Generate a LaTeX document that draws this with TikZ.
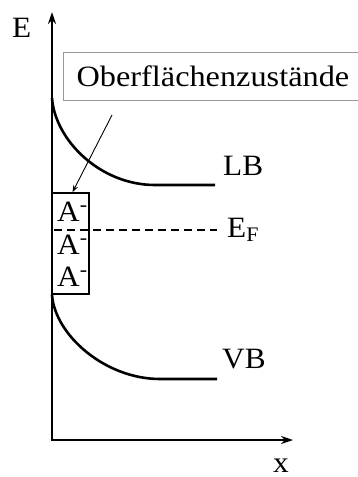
\documentclass[tikz,border=0pt]{standalone}
\usepackage{fontspec}
\usepackage{graphicx}
\setmainfont{Liberation Serif}
\usetikzlibrary{arrows.meta}
\newcommand\hwide[1]{\scalebox{1.06}[1]{#1}}
\newcommand\hwider[1]{\scalebox{1.095}[1]{#1}}
\begin{document}
\begin{tikzpicture}[x=1pt,y=-1pt,
  lbl/.style={anchor=base west, inner sep=0pt, font=\fontsize{29.5}{34}\selectfont},
  axisline/.style={line width=1.8pt, {Stealth[length=12pt,width=8pt]}-{Stealth[length=12pt,width=8pt]}},
  band/.style={line width=2.6pt},
  ptr/.style={line width=0.9pt, -{Stealth[length=7pt,width=5pt]}},
  fermi/.style={line width=1.6pt, dash pattern=on 8pt off 5pt},
  statebox/.style={draw, line width=1.6pt, minimum width=37pt, minimum height=101pt, inner sep=0pt},
  labelbox/.style={draw=black!40, line width=1.2pt, anchor=north west, minimum height=48pt,
    text width=290pt, inner xsep=13pt, align=left, font=\fontsize{29.5}{34}\selectfont}
]
\useasboundingbox (0,0) rectangle (357,477);
\fill[white] (0,0) rectangle (357,477);
% axes
\coordinate (O) at (52,440);
\coordinate (ytip) at (52,12);
\coordinate (xtip) at (293,440);
\draw[axisline] (ytip) -- (O) -- (xtip);
\node[lbl] (Elab) at (12,37) {\hwide{E}};
\node[lbl] (xlab) at (273,472) {\hwide{x}};
% surface states box
\node[labelbox] (surf) at (63,52) {\hwider{Oberflächenzustände}};
% band curves
\coordinate (lb0) at (52,98);
\coordinate (lb1) at (155,185);
\coordinate (lb2) at (215,185);
\draw[band] (lb0) .. controls (55,140) and (100,185) .. (lb1) -- (lb2);
\node[lbl] (LB) at (223,175) {\hwide{LB}};
\coordinate (vb0) at (52,295);
\coordinate (vb1) at (160,379);
\coordinate (vb2) at (217,379);
\draw[band] (vb0) .. controls (55,335) and (105,379) .. (vb1) -- (vb2);
\node[lbl] (VB) at (222,368) {\hwide{VB}};
% state box
\node[statebox] (abox) at (70.5,243.5) {};
\node[lbl] (a1) at (57,221) {\hwide{A\textsuperscript{-}}};
\node[lbl] (a2) at (57,254) {\hwide{A\textsuperscript{-}}};
\node[lbl] (a3) at (57,286) {\hwide{A\textsuperscript{-}}};
% Fermi level
\coordinate (ef0) at (54,230);
\coordinate (ef1) at (217,230);
\draw[fermi] (ef0) -- (ef1);
\node[lbl] (EF) at (227,237) {\hwide{E\textsubscript{F}}};
% pointer
\coordinate (ptr0) at (112,115);
\draw[ptr] (ptr0) -- ([xshift=2pt]abox.north);
\end{tikzpicture}
\end{document}
